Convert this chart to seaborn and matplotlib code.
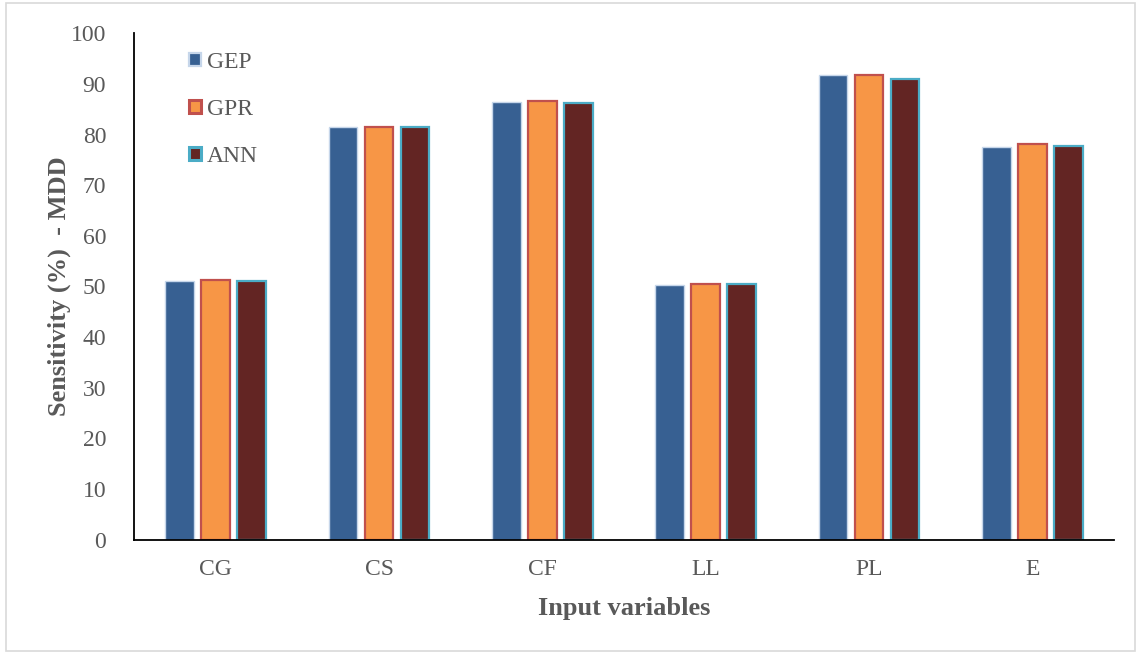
import matplotlib
matplotlib.use("Agg")
import matplotlib.pyplot as plt
from matplotlib.patches import Rectangle
import seaborn as sns
import pandas as pd

# Sensitivity of MDD to each input variable, per model
categories = ["CG", "CS", "CF", "LL", "PL", "E"]
models = ["GEP", "GPR", "ANN"]
gep = [51.1, 81.5, 86.5, 50.2, 91.7, 77.6]
gpr = [51.2, 81.5, 86.6, 50.4, 91.7, 78.1]
ann = [51.1, 81.4, 86.3, 50.4, 91.0, 77.8]
y_ticks = [0, 10, 20, 30, 40, 50, 60, 70, 80, 90, 100]

face_colors = ["#376092", "#F79646", "#632523"]
edge_colors = ["#C6D6EA", "#C0504D", "#4BACC6"]
edge_widths = [1.0, 1.6, 1.6]
text_color = "#595959"

df = pd.DataFrame({
    "variable": categories * 3,
    "model": [m for m in models for _ in categories],
    "value": gep + gpr + ann,
})

sns.set_theme(style="white")
plt.rcParams["font.family"] = ["Liberation Serif", "DejaVu Serif"]

fig = plt.figure(figsize=(11.37, 6.52), dpi=100)
ax = fig.add_axes([134 / 1137, 1 - 539.5 / 652, 980 / 1137, 506.2 / 652])

sns.barplot(data=df, x="variable", y="value", hue="model", order=categories,
            hue_order=models, palette=face_colors, width=0.66, gap=0.2,
            saturation=1, ax=ax)

for cont, ec, lw in zip(ax.containers, edge_colors, edge_widths):
    for bar in cont:
        bar.set_edgecolor(ec)
        bar.set_linewidth(lw)

ax.set_xlim(-0.5, len(categories) - 0.5)
ax.set_ylim(0, 100)
ax.set_yticks(y_ticks)
ax.tick_params(axis="both", length=0, labelsize=17, colors=text_color)
ax.tick_params(axis="y", pad=20)
ax.tick_params(axis="x", pad=14)

for side in ["top", "right"]:
    ax.spines[side].set_visible(False)
for side in ["left", "bottom"]:
    ax.spines[side].set_color("black")
    ax.spines[side].set_linewidth(1.3)

ax.set_xlabel("Input variables", fontsize=19, fontweight="bold",
              color=text_color, labelpad=12)
ax.set_ylabel("Sensitivity (%)  - MDD", fontsize=19, fontweight="bold",
              color=text_color, labelpad=0)

# Legend with small square swatches, stacked with generous spacing
handles, labels = ax.get_legend_handles_labels()
leg = ax.legend(handles, labels, loc="upper left",
                bbox_to_anchor=(0.056, 0.963), frameon=False,
                fontsize=17, labelcolor=text_color,
                handlelength=0.5, handleheight=0.5, handletextpad=0.25,
                labelspacing=1.1, borderpad=0, borderaxespad=0)
for h, ec, lw in zip(leg.legend_handles, edge_colors, edge_widths):
    h.set_edgecolor(ec)
    h.set_linewidth(lw + 0.6)

# Light frame around the whole chart area
fig.patches.append(Rectangle((6 / 1137, 1.5 / 652), 1129 / 1137, 648 / 652,
                             transform=fig.transFigure, fill=False,
                             edgecolor="#D9D9D9", linewidth=1.2))

fig.savefig("out.png", dpi=100, facecolor="white")
